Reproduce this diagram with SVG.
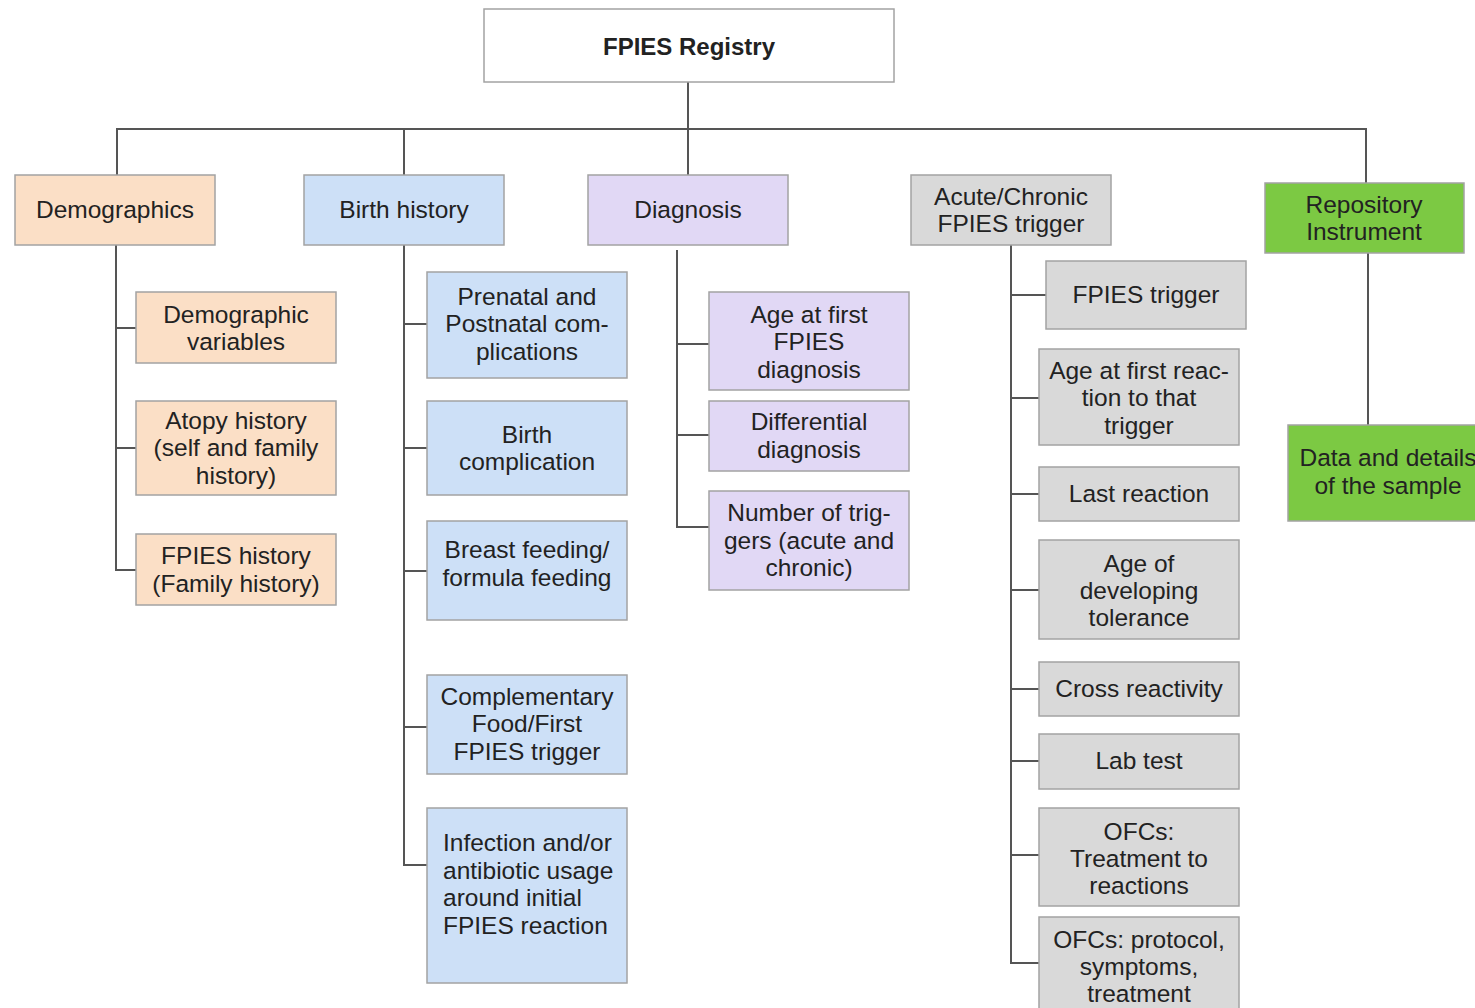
<svg xmlns="http://www.w3.org/2000/svg" width="1475" height="1008" viewBox="0 0 1475 1008">
<style>
text{font-family:"Liberation Sans",Arial,sans-serif;font-size:24.5px;fill:#222;text-anchor:middle}
.b{font-weight:bold;font-size:24px}
.l{text-anchor:start}
.n rect{stroke:#a3a3a3;stroke-width:1.5}
.w{fill:#ffffff}
.p{fill:#fbdfc6}
.bl{fill:#cde0f7}
.v{fill:#e1d8f5}
.g{fill:#d9d9d9}
.gr{fill:#7cc943}
#connectors path{fill:none;stroke:#555;stroke-width:2}
</style>
<rect width="1475" height="1008" fill="#fff"/>
<g id="connectors">
<path d="M688,82V175"/>
<path d="M117,175V129H1366V183"/>
<path d="M404,129V175"/>
<path d="M116,245V570H136M116,328H136M116,448H136"/>
<path d="M404,245V865H427M404,324H427M404,448H427M404,571H427M404,727H427"/>
<path d="M677,250V527H709M677,344H709M677,435H709"/>
<path d="M1011,245V963H1039M1011,295H1046M1011,398H1039M1011,494H1039M1011,590H1039M1011,689H1039M1011,761H1039M1011,855H1039"/>
<path d="M1368,253V425"/>
</g>
<g id="n-root" class="n"><rect class="w" x="484" y="9" width="410" height="73"/><text class="b" x="689" y="55">FPIES Registry</text></g>
<g id="n-demo" class="n"><rect class="p" x="15" y="175" width="200" height="70"/><text x="115" y="218">Demographics</text></g>
<g id="n-birth" class="n"><rect class="bl" x="304" y="175" width="200" height="70"/><text x="404" y="218">Birth history</text></g>
<g id="n-diag" class="n"><rect class="v" x="588" y="175" width="200" height="70"/><text x="688" y="218">Diagnosis</text></g>
<g id="n-acute" class="n"><rect class="g" x="911" y="175" width="200" height="70"/><text x="1011" y="205">Acute/Chronic</text><text x="1011" y="232">FPIES trigger</text></g>
<g id="n-repo" class="n"><rect class="gr" x="1265" y="183" width="199" height="70"/><text x="1364" y="213">Repository</text><text x="1364" y="240">Instrument</text></g>

<g id="n-demvar" class="n"><rect class="p" x="136" y="292" width="200" height="71"/><text x="236" y="323">Demographic</text><text x="236" y="350">variables</text></g>
<g id="n-atopy" class="n"><rect class="p" x="136" y="401" width="200" height="94"/><text x="236" y="429">Atopy history</text><text x="236" y="456">(self and family</text><text x="236" y="484">history)</text></g>
<g id="n-fpieshist" class="n"><rect class="p" x="136" y="534" width="200" height="71"/><text x="236" y="564">FPIES history</text><text x="236" y="592">(Family history)</text></g>

<g id="n-prenatal" class="n"><rect class="bl" x="427" y="272" width="200" height="106"/><text x="527" y="305">Prenatal and</text><text x="527" y="332">Postnatal com-</text><text x="527" y="360">plications</text></g>
<g id="n-birthcomp" class="n"><rect class="bl" x="427" y="401" width="200" height="94"/><text x="527" y="443">Birth</text><text x="527" y="470">complication</text></g>
<g id="n-breast" class="n"><rect class="bl" x="427" y="521" width="200" height="99"/><text x="527" y="558">Breast feeding/</text><text x="527" y="586">formula feeding</text></g>
<g id="n-compl" class="n"><rect class="bl" x="427" y="675" width="200" height="99"/><text x="527" y="705">Complementary</text><text x="527" y="732">Food/First</text><text x="527" y="760">FPIES trigger</text></g>
<g id="n-infect" class="n"><rect class="bl" x="427" y="808" width="200" height="175"/><text class="l" x="443" y="851">Infection and/or</text><text class="l" x="443" y="879">antibiotic usage</text><text class="l" x="443" y="906">around initial</text><text class="l" x="443" y="934">FPIES reaction</text></g>

<g id="n-agediag" class="n"><rect class="v" x="709" y="292" width="200" height="98"/><text x="809" y="323">Age at first</text><text x="809" y="350">FPIES</text><text x="809" y="378">diagnosis</text></g>
<g id="n-diff" class="n"><rect class="v" x="709" y="401" width="200" height="70"/><text x="809" y="430">Differential</text><text x="809" y="458">diagnosis</text></g>
<g id="n-num" class="n"><rect class="v" x="709" y="491" width="200" height="99"/><text x="809" y="521">Number of trig-</text><text x="809" y="549">gers (acute and</text><text x="809" y="576">chronic)</text></g>

<g id="n-trigger" class="n"><rect class="g" x="1046" y="261" width="200" height="68"/><text x="1146" y="303">FPIES trigger</text></g>
<g id="n-agereact" class="n"><rect class="g" x="1039" y="349" width="200" height="96"/><text x="1139" y="379">Age at first reac-</text><text x="1139" y="406">tion to that</text><text x="1139" y="434">trigger</text></g>
<g id="n-last" class="n"><rect class="g" x="1039" y="467" width="200" height="54"/><text x="1139" y="502">Last reaction</text></g>
<g id="n-tol" class="n"><rect class="g" x="1039" y="540" width="200" height="99"/><text x="1139" y="572">Age of</text><text x="1139" y="599">developing</text><text x="1139" y="626">tolerance</text></g>
<g id="n-cross" class="n"><rect class="g" x="1039" y="662" width="200" height="54"/><text x="1139" y="697">Cross reactivity</text></g>
<g id="n-lab" class="n"><rect class="g" x="1039" y="734" width="200" height="55"/><text x="1139" y="769">Lab test</text></g>
<g id="n-ofc1" class="n"><rect class="g" x="1039" y="808" width="200" height="98"/><text x="1139" y="840">OFCs:</text><text x="1139" y="867">Treatment to</text><text x="1139" y="894">reactions</text></g>
<g id="n-ofc2" class="n"><rect class="g" x="1039" y="917" width="200" height="100"/><text x="1139" y="948">OFCs: protocol,</text><text x="1139" y="975">symptoms,</text><text x="1139" y="1002">treatment</text></g>

<g id="n-data" class="n"><rect class="gr" x="1288" y="425" width="200" height="96"/><text x="1388" y="466">Data and details</text><text x="1388" y="494">of the sample</text></g>
</svg>
